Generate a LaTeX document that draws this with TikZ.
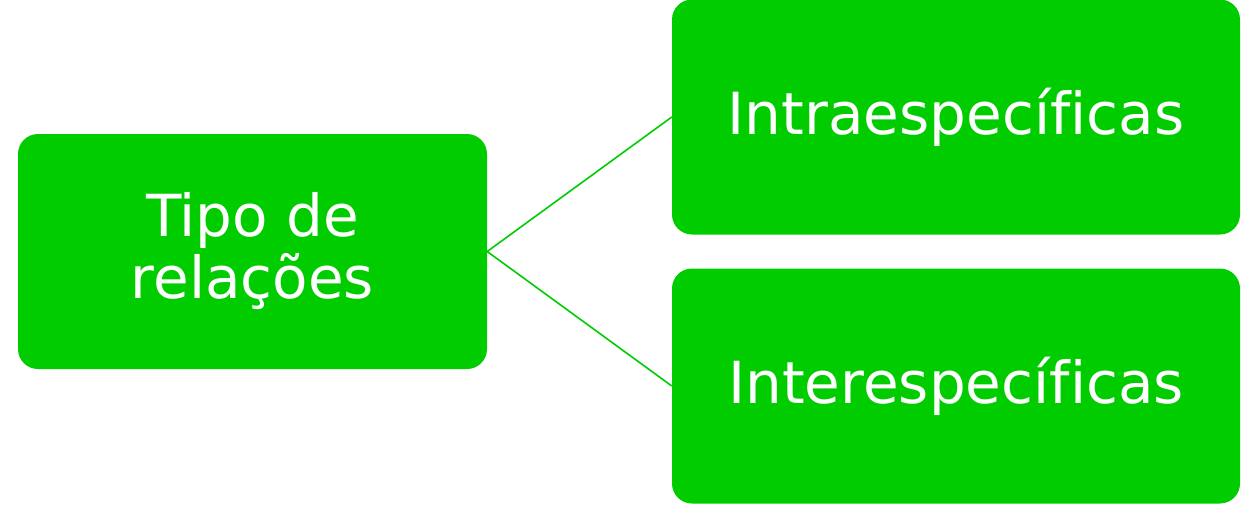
\documentclass[tikz,border=0pt]{standalone}
\usepackage{fontspec}
\setmainfont[Ligatures=NoCommon]{DejaVu Sans}
\definecolor{boxgreen}{HTML}{00CC00}
\tikzset{
  gbox/.style={fill=boxgreen, draw=none, rounded corners=20pt, text=white,
    align=center, inner sep=0pt, font=\fontsize{58}{62}\selectfont},
  link/.style={draw=boxgreen, line width=1.6pt}
}
\begin{document}
\begin{tikzpicture}[x=1pt,y=-1pt]
\useasboundingbox (0,0) rectangle (1257,504);
\node[gbox, minimum width=469pt, minimum height=235pt] (root) at (252.5,251.5) {Tipo de\\relações};
\node[gbox, minimum width=568pt, minimum height=235pt] (intra) at (956,117) {Intraespecíficas};
\node[gbox, minimum width=568pt, minimum height=235pt] (inter) at (956,386) {Interespecíficas};
\draw[link] (root.east) -- (intra.west);
\draw[link] (root.east) -- (inter.west);
\end{tikzpicture}
\end{document}
